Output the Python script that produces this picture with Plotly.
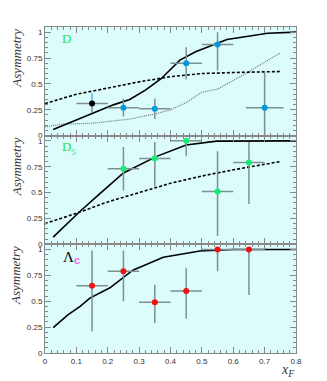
import plotly.graph_objects as go
from plotly.subplots import make_subplots

# --- D panel ---
d_x = [0.25, 0.35, 0.45, 0.55, 0.70]
d_y = [0.27, 0.26, 0.70, 0.88, 0.27]
d_ep = [0.085, 0.10, 0.155, 0.12, 0.35]
d_em = [0.085, 0.10, 0.155, 0.25, 0.35]
d_ex = [0.05, 0.05, 0.05, 0.05, 0.06]
d0_x = [0.15]
d0_y = [0.31]
d0_ep = [0.10]
d0_em = [0.09]

d_solid_x = [0.026, 0.10, 0.154, 0.22, 0.27, 0.32, 0.37, 0.43, 0.48, 0.58, 0.71, 0.80]
d_solid_y = [0.06, 0.15, 0.22, 0.30, 0.35, 0.44, 0.55, 0.73, 0.81, 0.93, 0.99, 1.0]
d_dash_x = [0.0, 0.1, 0.2, 0.3, 0.4, 0.5, 0.6, 0.75]
d_dash_y = [0.31, 0.40, 0.46, 0.52, 0.57, 0.60, 0.61, 0.62]
d_dot_x = [0.0, 0.05, 0.15, 0.27, 0.35, 0.40, 0.45, 0.50, 0.55, 0.64, 0.75]
d_dot_y = [0.085, 0.11, 0.12, 0.16, 0.21, 0.25, 0.32, 0.42, 0.45, 0.60, 0.80]

# --- Ds panel ---
ds_x = [0.25, 0.35, 0.45, 0.55, 0.65]
ds_y = [0.73, 0.83, 1.0, 0.51, 0.79]
ds_ep = [0.21, 0.16, 0.0, 0.39, 0.20]
ds_em = [0.21, 0.27, 0.15, 0.43, 0.40]
ds_ex = [0.05, 0.05, 0.05, 0.05, 0.05]

ds_solid_x = [0.026, 0.112, 0.175, 0.25, 0.356, 0.45, 0.547, 0.65, 0.80]
ds_solid_y = [0.07, 0.32, 0.49, 0.69, 0.85, 0.96, 0.997, 1.0, 1.0]
ds_dash_x = [0.0, 0.1, 0.2, 0.3, 0.4, 0.5, 0.6, 0.75]
ds_dash_y = [0.20, 0.30, 0.41, 0.50, 0.59, 0.66, 0.72, 0.80]

# --- Lambda_c panel ---
lc_x = [0.15, 0.25, 0.35, 0.45, 0.55, 0.65]
lc_y = [0.65, 0.79, 0.49, 0.60, 1.0, 1.0]
lc_ep = [0.34, 0.20, 0.17, 0.22, 0.0, 0.0]
lc_em = [0.44, 0.29, 0.20, 0.27, 0.21, 0.44]
lc_ex = [0.05, 0.05, 0.05, 0.05, 0.05, 0.05]

lc_solid_x = [0.026, 0.074, 0.112, 0.143, 0.207, 0.28, 0.377, 0.494, 0.60, 0.80]
lc_solid_y = [0.245, 0.37, 0.45, 0.53, 0.63, 0.80, 0.925, 0.985, 1.0, 1.0]

xticks = [0, 0.1, 0.2, 0.3, 0.4, 0.5, 0.6, 0.7, 0.8]
xticktext = ["0", "0.1", "0.2", "0.3", "0.4", "0.5", "0.6", "0.7", "0.8"]
yticks = [0, 0.25, 0.5, 0.75, 1]
yticktext = ["0", "0.25", "0.5", "0.75", "1"]

ERR = "#7f8f8f"
fig = make_subplots(rows=3, cols=1, shared_xaxes=True, vertical_spacing=0)


def curve(x, y, row, dash="solid", color="black", width=1.6):
    fig.add_trace(go.Scatter(x=x, y=y, mode="lines", line=dict(color=color, width=width, dash=dash),
                             showlegend=False, hoverinfo="skip"), row=row, col=1)


def points(x, y, ep, em, ex, color, row, ecol=ERR):
    fig.add_trace(go.Scatter(x=x, y=y, mode="markers", marker=dict(color=color, size=6),
                             error_y=dict(type="data", array=ep, arrayminus=em, color=ecol, thickness=1.5, width=0),
                             error_x=dict(type="data", array=ex, color=ecol, thickness=1.5, width=0),
                             showlegend=False), row=row, col=1)


curve(d_dot_x, d_dot_y, 1, dash="1px,1px", color="#777", width=1.2)
curve(d_dash_x, d_dash_y, 1, dash="3px,2px")
curve(d_solid_x, d_solid_y, 1)
fig.add_trace(go.Scatter(x=d0_x, y=d0_y, mode="markers", marker=dict(color="black", size=6, opacity=0),
                         error_y=dict(type="data", array=d0_ep, arrayminus=[0], color="#55bbdd", thickness=1.5, width=0),
                         showlegend=False), row=1, col=1)
points(d0_x, d0_y, [0], d0_em, [0.05], "black", 1)
points(d_x, d_y, d_ep, d_em, d_ex, "#0099dd", 1)

curve(ds_dash_x, ds_dash_y, 2, dash="3px,2px")
curve(ds_solid_x, ds_solid_y, 2)
points(ds_x, ds_y, ds_ep, ds_em, ds_ex, "#11ee77", 2)

curve(lc_solid_x, lc_solid_y, 3)
points(lc_x, lc_y, lc_ep, lc_em, lc_ex, "#ee1111", 3)

for r in (1, 2, 3):
    fig.update_xaxes(range=[0, 0.8], tickvals=xticks, ticktext=xticktext, showticklabels=(r == 3),
                     ticks="inside", ticklen=6, tickcolor="#888", mirror="ticks", showline=True,
                     linecolor="#888", linewidth=1, showgrid=False, zeroline=False,
                     minor=dict(dtick=0.02, ticks="inside", ticklen=3, tickcolor="#888"),
                     tickfont=dict(size=8, color="#333", family="Liberation Sans"), row=r, col=1)
    fig.update_yaxes(range=[0, 1.05], tickvals=yticks, ticktext=yticktext,
                     ticks="inside", ticklen=6, tickcolor="#888", mirror="ticks", showline=True,
                     linecolor="#888", linewidth=1, showgrid=False, zeroline=False,
                     minor=dict(dtick=0.05, ticks="inside", ticklen=3, tickcolor="#888"),
                     tickfont=dict(size=8, color="#333", family="Liberation Sans"), row=r, col=1)

ann = []
for yr in ("y domain", "y2 domain", "y3 domain"):
    ann.append(dict(text="Asymmetry", xref="paper", yref=yr, x=-0.115, y=1.0, xanchor="center",
                    yanchor="top", textangle=-90, showarrow=False,
                    font=dict(family="Liberation Serif", size=13, color="#333", style="italic")))
ann += [
    dict(text="D", xref="x", yref="y", x=0.07, y=0.94, showarrow=False,
         font=dict(family="Liberation Serif", size=13, color="#33dd33")),
    dict(text="D", xref="x2", yref="y2", x=0.068, y=0.95, showarrow=False,
         font=dict(family="Liberation Serif", size=13, color="#33dd33")),
    dict(text="s", xref="x2", yref="y2", x=0.092, y=0.90, showarrow=False,
         font=dict(family="Liberation Sans", size=10, color="#66eeaa")),
    dict(text="Λ", xref="x3", yref="y3", x=0.074, y=0.93, showarrow=False,
         font=dict(family="Liberation Serif", size=15, color="black")),
    dict(text="<b>c</b>", xref="x3", yref="y3", x=0.101, y=0.895, showarrow=False,
         font=dict(family="Liberation Sans", size=11, color="#ff66ee")),
    dict(text="<i>x<sub>F</sub></i>", xref="paper", yref="paper", x=0.97, y=-0.055, xanchor="center",
         yanchor="middle", showarrow=False, font=dict(family="Liberation Serif", size=14, color="#333")),
]

# the page body adds an 8px offset, so the figure is a bit smaller than the window
fig.update_layout(width=319, height=373, margin=dict(l=37, r=31, t=19, b=28),
                  paper_bgcolor="white", plot_bgcolor="#dcfcfc", annotations=ann,
                  showlegend=False)
fig.write_html("out.html")
